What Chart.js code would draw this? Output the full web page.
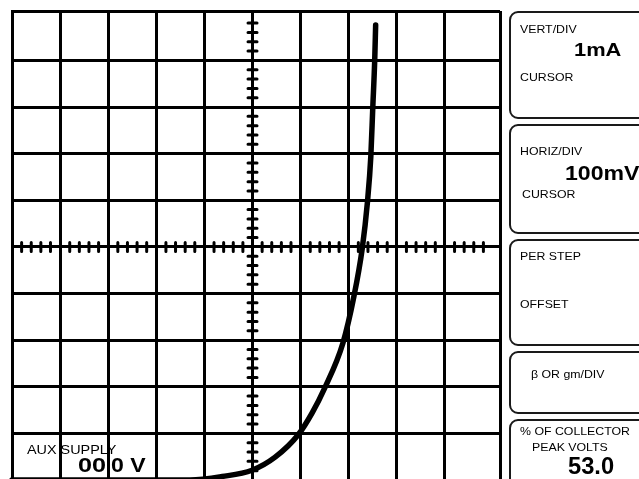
<!DOCTYPE html>
<html>
<head>
<meta charset="utf-8">
<script src="https://cdn.jsdelivr.net/npm/chart.js@4/dist/chart.umd.min.js"></script>
<style>
  html, body { margin: 0; padding: 0; background: #fff; overflow: hidden; }
  #wrap { position: relative; width: 639px; height: 479px; overflow: hidden; font-family: "Liberation Sans", Arial, sans-serif; color: #000; }
  #plot { position: absolute; left: 0; top: 0; }
  .box { position: absolute; left: 509px; width: 150px; border: 2px solid #1a1a1a; border-radius: 9px; box-sizing: border-box; }
  .t { position: absolute; font-size: 11px; white-space: nowrap; line-height: 1; transform: scaleX(1.12); transform-origin: left top; }
  .big { position: absolute; font-weight: bold; white-space: nowrap; line-height: 1; transform-origin: left top; }
</style>
</head>
<body>
<div id="wrap">
  <canvas id="plot" width="639" height="482"></canvas>

  <div class="box" style="top:11px; height:108px;"></div>
  <div class="box" style="top:124px; height:110px;"></div>
  <div class="box" style="top:239px; height:107px;"></div>
  <div class="box" style="top:351px; height:63px;"></div>
  <div class="box" style="top:419px; height:80px;"></div>

  <div class="t" style="left:520px; top:23.5px;">VERT/DIV</div>
  <div class="big" style="left:574px; top:39.5px; font-size:19px; transform:scaleX(1.15);">1mA</div>
  <div class="t" style="left:520px; top:71.5px;">CURSOR</div>

  <div class="t" style="left:520px; top:145.5px;">HORIZ/DIV</div>
  <div class="big" style="left:565px; top:162px; font-size:21px; transform:scaleX(1.1);">100mV</div>
  <div class="t" style="left:522px; top:188.5px;">CURSOR</div>

  <div class="t" style="left:520px; top:250.5px;">PER STEP</div>
  <div class="t" style="left:520px; top:298.5px;">OFFSET</div>

  <div class="t" style="left:531px; top:368.5px;">β OR gm/DIV</div>

  <div class="t" style="left:520px; top:425.5px;">% OF COLLECTOR</div>
  <div class="t" style="left:532px; top:441.5px;">PEAK VOLTS</div>
  <div class="big" style="left:568px; top:455px; font-size:23px; transform:scaleX(1.03);">53.0</div>

  <div class="t" style="left:27px; top:443.5px; font-size:12px; transform:scaleX(1.2);">AUX SUPPLY</div>
  <div class="big" style="left:78px; top:454px; font-size:21px; transform:scaleX(1.2);">00</div>
  <div class="big" style="left:111px; top:454px; font-size:21px; transform:scaleX(1.1);">0 V</div>
</div>

<script>
// Forward diode characteristic: horizontal 100 mV/div, vertical 1 mA/div
const voltageMV = [0, 370, 437, 499, 547, 595, 624, 649, 688, 711, 728, 739, 746, 750, 754, 756];
const currentMA = [0, 0, 0.075, 0.21, 0.49, 0.97, 1.44, 1.95, 2.94, 3.95, 4.96, 5.97, 6.95, 7.98, 8.99, 9.76];

// Graticule: division lines plus the outer frame edges
const xDivisions = [0, 100, 200, 300, 400, 500, 600, 700, 800, 900];
const yDivisions = [0, 1, 2, 3, 4, 5, 6, 7, 8, 9];
const xFrame = [0, 1014.5];
const yFrame = [0, 10.06];

const points = voltageMV.map((v, i) => ({ x: v, y: currentMA[i] }));

// Minor graduations on the centre cross (5 per division)
const centreTicks = {
  id: 'centreTicks',
  beforeDatasetsDraw(chart) {
    const { ctx, scales: { x, y } } = chart;
    const cx = x.getPixelForValue(500);
    const cy = y.getPixelForValue(5);
    ctx.save();
    ctx.strokeStyle = '#000';
    ctx.lineWidth = 3;
    ctx.lineCap = 'round';
    ctx.beginPath();
    for (let v = 0; v <= xFrame[1]; v += 20) {
      if (v % 100 === 0) continue;
      const px = x.getPixelForValue(v);
      if (px > x.right - 6) break;
      ctx.moveTo(px, cy - 4.5);
      ctx.lineTo(px, cy + 4.5);
    }
    for (let k = 0; k <= 50; k++) {
      if (k % 5 === 0) continue;
      const py = y.getPixelForValue(k / 5);
      ctx.moveTo(cx - 4.5, py);
      ctx.lineTo(cx + 4.5, py);
    }
    ctx.stroke();
    ctx.restore();
  }
};

const gridStyle = { color: '#000', lineWidth: 3, drawTicks: false };

new Chart(document.getElementById('plot'), {
  type: 'scatter',
  data: {
    datasets: [{
      data: points,
      showLine: true,
      borderColor: '#000',
      borderWidth: 5.5,
      borderCapStyle: 'round',
      pointRadius: 0,
      cubicInterpolationMode: 'monotone',
      clip: 4
    }]
  },
  options: {
    responsive: false,
    animation: false,
    devicePixelRatio: 1,
    layout: { padding: { left: 12, top: 11, right: 139, bottom: 2 } },
    plugins: { legend: { display: false }, tooltip: { enabled: false } },
    scales: {
      x: {
        type: 'linear',
        min: xFrame[0],
        max: xFrame[1],
        afterBuildTicks: s => { s.ticks = xDivisions.concat([xFrame[1]]).map(v => ({ value: v })); },
        ticks: { display: false },
        grid: gridStyle,
        border: { color: '#000', width: 3 }
      },
      y: {
        type: 'linear',
        min: yFrame[0],
        max: yFrame[1],
        afterBuildTicks: s => { s.ticks = yDivisions.concat([yFrame[1]]).map(v => ({ value: v })); },
        ticks: { display: false },
        grid: gridStyle,
        border: { color: '#000', width: 3 }
      }
    }
  },
  plugins: [centreTicks]
});
</script>
</body>
</html>
